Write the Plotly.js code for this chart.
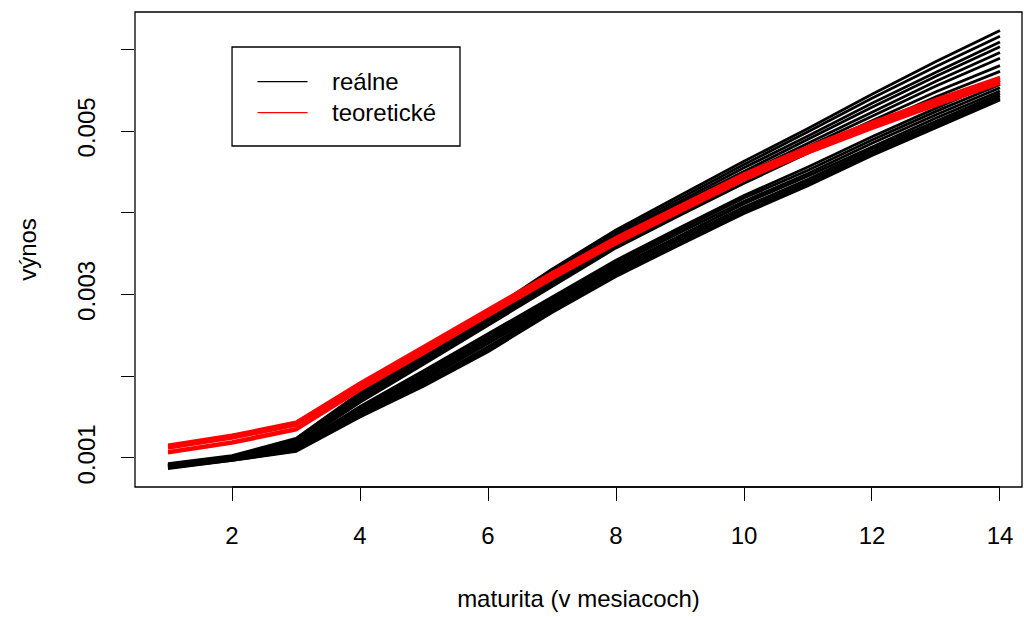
<!DOCTYPE html>
<html>
<head>
<meta charset="utf-8">
<script src="https://cdn.plot.ly/plotly-3.0.1.min.js"></script>
<style>html,body{margin:0;padding:0;background:#fff;}#chart{width:1024px;height:617px;}</style>
</head>
<body>
<div id="chart"></div>
<script>
// maturity in months
const maturity = [1,2,3,4,5,6,7,8,9,10,11,12,13,14];

// observed (real) yield curves
const real01 = [0.00093,0.00103,0.00124,0.00180,0.00229,0.00279,0.00331,0.00379,0.00421,0.00463,0.00503,0.00545,0.00585,0.00623];
const real02 = [0.00092,0.00102,0.00122,0.00178,0.00227,0.00277,0.00328,0.00376,0.00418,0.00459,0.00499,0.00540,0.00579,0.00616];
const real03 = [0.00092,0.00101,0.00121,0.00176,0.00225,0.00274,0.00325,0.00373,0.00414,0.00455,0.00494,0.00534,0.00572,0.00609];
const real04 = [0.00091,0.00101,0.00120,0.00175,0.00223,0.00272,0.00322,0.00370,0.00411,0.00451,0.00490,0.00529,0.00567,0.00603];
const real05 = [0.00091,0.00100,0.00119,0.00173,0.00221,0.00269,0.00319,0.00366,0.00407,0.00447,0.00485,0.00523,0.00561,0.00596];
const real06 = [0.00090,0.00100,0.00118,0.00171,0.00219,0.00267,0.00316,0.00363,0.00403,0.00443,0.00481,0.00518,0.00555,0.00589];
const real07 = [0.00090,0.00099,0.00117,0.00170,0.00217,0.00265,0.00313,0.00360,0.00400,0.00440,0.00477,0.00513,0.00548,0.00580];
const real08 = [0.00090,0.00099,0.00116,0.00168,0.00215,0.00262,0.00310,0.00357,0.00397,0.00436,0.00473,0.00508,0.00542,0.00573];
const real09 = [0.00090,0.00100,0.00114,0.00163,0.00207,0.00252,0.00298,0.00342,0.00382,0.00421,0.00456,0.00493,0.00528,0.00562];
const real10 = [0.00089,0.00099,0.00113,0.00161,0.00204,0.00249,0.00295,0.00339,0.00379,0.00418,0.00452,0.00489,0.00524,0.00557];
const real11 = [0.00089,0.00099,0.00112,0.00159,0.00201,0.00246,0.00292,0.00336,0.00376,0.00414,0.00448,0.00485,0.00520,0.00553];
const real12 = [0.00089,0.00098,0.00111,0.00157,0.00198,0.00243,0.00289,0.00333,0.00372,0.00411,0.00445,0.00481,0.00516,0.00549];
const real13 = [0.00088,0.00098,0.00110,0.00155,0.00195,0.00240,0.00286,0.00330,0.00369,0.00407,0.00441,0.00478,0.00512,0.00546];
const real14 = [0.00088,0.00098,0.00109,0.00153,0.00192,0.00236,0.00283,0.00327,0.00366,0.00404,0.00438,0.00475,0.00509,0.00543];
const real15 = [0.00088,0.00097,0.00109,0.00151,0.00190,0.00233,0.00280,0.00324,0.00363,0.00401,0.00435,0.00472,0.00506,0.00540];
const real16 = [0.00087,0.00097,0.00108,0.00150,0.00188,0.00230,0.00278,0.00322,0.00361,0.00399,0.00433,0.00470,0.00504,0.00538];

// theoretical (model) yield curves
const theo1 = [0.00116,0.00128,0.00144,0.00192,0.00237,0.00282,0.00327,0.00370,0.00409,0.00448,0.00481,0.00511,0.00539,0.00566];
const theo2 = [0.00114,0.00126,0.00142,0.00190,0.00235,0.00280,0.00325,0.00368,0.00407,0.00446,0.00479,0.00509,0.00537,0.00564];
const theo3 = [0.00112,0.00124,0.00140,0.00188,0.00233,0.00278,0.00323,0.00366,0.00405,0.00444,0.00477,0.00507,0.00535,0.00562];
const theo4 = [0.00108,0.00120,0.00136,0.00185,0.00230,0.00276,0.00321,0.00364,0.00403,0.00442,0.00475,0.00505,0.00533,0.00560];
const theo5 = [0.00106,0.00118,0.00134,0.00183,0.00228,0.00274,0.00319,0.00362,0.00401,0.00440,0.00473,0.00503,0.00531,0.00558];

const realSeries = [real01,real02,real03,real04,real05,real06,real07,real08,real09,real10,real11,real12,real13,real14,real15,real16];
const theoSeries = [theo1,theo2,theo3,theo4,theo5];

const xTicks = [2,4,6,8,10,12,14];
const yTicks = [0.001,0.002,0.003,0.004,0.005,0.006];
const yTickText = ['0.001','','0.003','','0.005',''];
const legendLabels = ['reálne','teoretické'];

const FONT = 'Liberation Sans, Arial, Helvetica, sans-serif';
const FS = 24;

const traces = [];
realSeries.forEach(s => traces.push({x: maturity, y: s, type:'scatter', mode:'lines', line:{color:'#000000', width:2.8}, showlegend:false, hoverinfo:'skip'}));
theoSeries.forEach(s => traces.push({x: maturity, y: s, type:'scatter', mode:'lines', line:{color:'#ff0000', width:3}, showlegend:false, hoverinfo:'skip'}));

const layout = {
  width:1024, height:617,
  margin:{l:135, r:2, t:12, b:130, pad:0},
  paper_bgcolor:'#ffffff', plot_bgcolor:'#ffffff',
  font:{family:FONT, size:FS, color:'#000'},
  showlegend:false,
  xaxis:{
    range:[0.484,14.344], tickvals:xTicks, ticks:'outside', ticklen:13, tickwidth:1, tickcolor:'#000',
    showgrid:false, zeroline:false, showline:false, ticklabelstandoff:14,
    tickfont:{family:FONT, size:FS},
    title:{text:'maturita (v mesiacoch)', font:{family:FONT, size:FS}, standoff:42}
  },
  yaxis:{
    range:[0.000645,0.006456], tickvals:yTicks, ticktext:yTickText, ticks:'outside', ticklen:13, tickwidth:1, tickcolor:'#000',
    tickangle:-90, showgrid:false, zeroline:false, showline:false, ticklabelstandoff:16,
    tickfont:{family:FONT, size:FS},
    title:{text:'výnos', font:{family:FONT, size:FS}, standoff:30}
  },
  shapes:[
    {type:'rect', xref:'paper', yref:'paper', x0:0, x1:1, y0:0, y1:1, line:{color:'#000', width:1.3}},
    {type:'line', xref:'x', yref:'paper', x0:xTicks[0], x1:xTicks[xTicks.length-1], y0:0, y1:0, line:{color:'#000', width:1.3}},
    {type:'rect', xref:'paper', yref:'paper', x0:0.1094, x1:0.3664, y0:0.7179, y1:0.9263, line:{color:'#000', width:1.3}, fillcolor:'#fff'},
    {type:'line', xref:'paper', yref:'paper', x0:0.1381, x1:0.1946, y0:0.8533, y1:0.8533, line:{color:'#000', width:1.3}},
    {type:'line', xref:'paper', yref:'paper', x0:0.1381, x1:0.1946, y0:0.7880, y1:0.7880, line:{color:'#ff0000', width:1.3}}
  ],
  annotations:[
    {xref:'paper', yref:'paper', x:0.2198, y:0.8533, text:legendLabels[0], showarrow:false, xanchor:'left', yanchor:'middle', font:{family:FONT, size:FS}},
    {xref:'paper', yref:'paper', x:0.2198, y:0.7880, text:legendLabels[1], showarrow:false, xanchor:'left', yanchor:'middle', font:{family:FONT, size:FS}}
  ]
};

Plotly.newPlot('chart', traces, layout, {displayModeBar:false, staticPlot:true});
</script>
</body>
</html>
